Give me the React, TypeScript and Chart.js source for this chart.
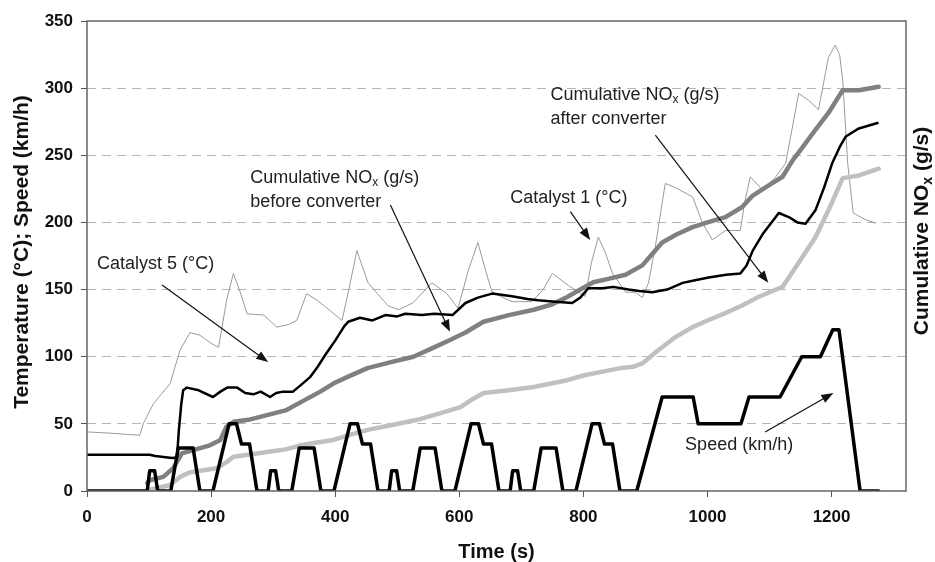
import React, { useEffect, useRef } from "react";
import { Chart, registerables } from "chart.js";

Chart.register(...registerables);

// ---- Data ----
const speedTime = [0, 86, 97, 101, 109, 114, 135, 147, 171, 182, 203, 229, 241, 249, 262, 274,
  292, 296, 304, 309, 330, 342, 366, 377, 398, 424, 436, 444, 457, 469,
  487, 491, 499, 504, 525, 537, 561, 572, 593, 619, 631, 639, 652, 664,
  682, 686, 694, 699, 720, 732, 756, 767, 788, 814, 826, 834, 847, 859,
  886, 927, 977, 985, 1054, 1067, 1117, 1152, 1182, 1202, 1212, 1246, 1276];
const speedKmh = [0, 0, 0, 15, 15, 0, 0, 32, 32, 0, 0, 50, 50, 35, 35, 0,
  0, 15, 15, 0, 0, 32, 32, 0, 0, 50, 50, 35, 35, 0,
  0, 15, 15, 0, 0, 32, 32, 0, 0, 50, 50, 35, 35, 0,
  0, 15, 15, 0, 0, 32, 32, 0, 0, 50, 50, 35, 35, 0,
  0, 70, 70, 50, 50, 70, 70, 100, 100, 120, 120, 0, 0];

const cat5Time = [0, 60, 101, 110, 137, 145, 148, 152, 155, 161, 180, 203, 215, 226, 242, 255, 268, 280, 295, 305, 316, 332, 345, 360, 371, 385, 400, 415, 421, 440, 460, 481, 500, 513, 540, 560, 589, 610, 630, 653, 685, 710, 727, 755, 782, 795, 808, 830, 848, 873, 890, 911, 935, 960, 980, 1002, 1030, 1053, 1063, 1073, 1090, 1115, 1131, 1145, 1158, 1174, 1188, 1201, 1213, 1223, 1244, 1274];
const cat5Temp = [27, 27, 27, 26, 24.5, 25, 45, 65, 75, 77, 75, 70, 74, 77, 77, 73, 72, 74, 70, 73, 74, 74, 79, 85, 92, 102, 112, 123, 126, 129, 127, 131, 130, 132, 131, 132, 131, 140, 144, 147, 145, 143, 142, 141, 140, 144, 151, 151, 152, 150, 149, 148, 150, 155, 157, 159, 161, 162, 168, 179, 192, 207, 204, 200, 199, 209, 226, 244, 256, 264, 270, 274];

const cat1Time = [0, 40, 85, 91, 107, 134, 150, 166, 182, 200, 212, 225, 236, 247, 258, 285, 306, 325, 338, 354, 371, 390, 411, 422, 435, 453, 485, 502, 525, 556, 580, 598, 615, 630, 645, 653, 685, 717, 735, 750, 776, 803, 813, 824, 835, 847, 868, 884, 895, 905, 916, 932, 948, 976, 992, 1008, 1029, 1053, 1060, 1069, 1089, 1110, 1126, 1147, 1163, 1179, 1195, 1206, 1213, 1218, 1226, 1235, 1255, 1271];
const cat1Temp = [44, 43, 41.5, 50.5, 65, 80, 105, 118, 116, 110, 107, 142, 162, 148, 132, 131, 122, 124, 127, 147, 142, 135, 127, 150, 179, 155, 138, 135, 140, 155, 147, 136, 165, 185, 160, 148, 141, 141, 150, 162, 153, 145, 170, 189, 178, 162, 148, 148, 144, 155, 182, 229, 226, 219, 199.5, 187, 194, 194, 215, 234, 224, 234, 244, 296, 291, 284, 323, 332, 325, 306, 244, 207, 202, 199.5];

const noxBeforeTime = [97, 101, 123, 139, 153, 171, 198, 215, 225, 236, 260, 290, 320, 344, 376, 397, 420, 452, 490, 526, 555, 585, 610, 639, 680, 720, 750, 774, 795, 816, 840, 868, 895, 910, 927, 950, 976, 1000, 1029, 1056, 1073, 1100, 1121, 1137, 1155, 1174, 1195, 1218, 1244, 1276];
const noxBefore = [6, 8, 10.5, 17, 28, 30.5, 34, 38, 48, 51.5, 53, 56.5, 60, 66, 74, 80, 85, 91.5, 96, 100, 106, 112.5, 118, 126, 131, 135, 139, 144.5, 150, 155.5, 158, 161, 168, 176, 185, 191, 196.5, 200, 204, 211.5, 220, 228, 234, 246, 257, 269, 281.5, 298.5, 298.5, 301];

const noxAfterTime = [101, 107, 134, 150, 166, 209, 225, 236, 260, 290, 320, 344, 376, 397, 425, 452, 490, 532, 570, 602, 620, 639, 680, 720, 774, 800, 827, 860, 880, 895, 921, 948, 976, 1000, 1029, 1055, 1082, 1100, 1121, 1147, 1174, 1195, 1218, 1244, 1276];
const noxAfter = [1, 1.5, 4.5, 10.5, 14, 17, 21.5, 25.5, 27, 29, 31, 34, 36.5, 38, 42, 45.5, 49, 53, 58, 62.5, 68, 73, 75, 77.5, 82.5, 86, 88.5, 91.5, 92.5, 95, 105, 114.5, 122, 127, 132.5, 138, 144.5, 148, 152, 170, 189, 209, 233, 235, 240];

const xTickValues = [0, 200, 400, 600, 800, 1000, 1200];
const yTickValues = [0, 50, 100, 150, 200, 250, 300, 350];

const FONT = "'Liberation Sans', Arial, sans-serif";

type Part = string | { sub: string };
interface Note {
  lines: Part[][];
  t: number; // left edge of text (time units)
  v: number[]; // centre line value per line
  arrow: [number, number, number, number];
}

const NOTES: Note[] = [
  { lines: [["Catalyst 5 (°C)"]], t: 16, v: [169], arrow: [121, 153.4, 292, 96] },
  {
    lines: [["Cumulative NO", { sub: "x" }, " (g/s)"], ["before converter"]],
    t: 263, v: [233, 215], arrow: [489, 213, 585, 118.5],
  },
  { lines: [["Catalyst 1 (°C)"]], t: 682, v: [218], arrow: [779, 208, 811, 187] },
  {
    lines: [["Cumulative NO", { sub: "x" }, " (g/s)"], ["after converter"]],
    t: 747, v: [295, 277], arrow: [916, 265, 1098, 155],
  },
  { lines: [["Speed (km/h)"]], t: 964, v: [34], arrow: [1093, 44, 1203, 73] },
];

function pts(xs: number[], ys: number[]) {
  return xs.map((x, i) => ({ x, y: ys[i] }));
}

function richWidth(ctx: CanvasRenderingContext2D, parts: Part[], size: number, bold: boolean) {
  const b = bold ? "bold " : "";
  let w = 0;
  for (const p of parts) {
    if (typeof p === "string") {
      ctx.font = `${b}${size}px ${FONT}`;
      w += ctx.measureText(p).width;
    } else {
      ctx.font = `${b}${Math.round(size * 0.65)}px ${FONT}`;
      w += ctx.measureText(p.sub).width;
    }
  }
  return w;
}

function drawRich(ctx: CanvasRenderingContext2D, parts: Part[], x: number, y: number, size: number, bold: boolean) {
  const b = bold ? "bold " : "";
  ctx.textAlign = "left";
  ctx.textBaseline = "middle";
  let cx = x;
  for (const p of parts) {
    if (typeof p === "string") {
      ctx.font = `${b}${size}px ${FONT}`;
      ctx.fillText(p, cx, y);
      cx += ctx.measureText(p).width;
    } else {
      ctx.font = `${b}${Math.round(size * 0.65)}px ${FONT}`;
      ctx.fillText(p.sub, cx, y + size * 0.28);
      cx += ctx.measureText(p.sub).width;
    }
  }
}

function drawArrow(ctx: CanvasRenderingContext2D, x1: number, y1: number, x2: number, y2: number) {
  const ang = Math.atan2(y2 - y1, x2 - x1);
  const hl = 12, hw = 4.5;
  ctx.strokeStyle = "#111";
  ctx.fillStyle = "#111";
  ctx.lineWidth = 1.2;
  ctx.beginPath();
  ctx.moveTo(x1, y1);
  ctx.lineTo(x2 - Math.cos(ang) * hl * 0.8, y2 - Math.sin(ang) * hl * 0.8);
  ctx.stroke();
  ctx.beginPath();
  ctx.moveTo(x2, y2);
  ctx.lineTo(x2 - Math.cos(ang) * hl + Math.sin(ang) * hw, y2 - Math.sin(ang) * hl - Math.cos(ang) * hw);
  ctx.lineTo(x2 - Math.cos(ang) * hl - Math.sin(ang) * hw, y2 - Math.sin(ang) * hl + Math.cos(ang) * hw);
  ctx.closePath();
  ctx.fill();
}

const decorPlugin = {
  id: "decor",
  afterDraw(chart: any) {
    const { ctx, chartArea, scales } = chart;
    const xs = scales.x, ys = scales.y;
    ctx.save();
    // frame
    ctx.strokeStyle = "#666";
    ctx.lineWidth = 1.5;
    ctx.strokeRect(chartArea.left, chartArea.top, chartArea.right - chartArea.left, chartArea.bottom - chartArea.top);

    // axis titles
    ctx.fillStyle = "#111";
    ctx.font = `bold 20px ${FONT}`;
    ctx.textAlign = "center";
    ctx.textBaseline = "middle";
    ctx.fillText("Time (s)", (chartArea.left + chartArea.right) / 2, 552);

    ctx.save();
    ctx.translate(22, 252);
    ctx.rotate(-Math.PI / 2);
    ctx.font = `bold 21px ${FONT}`;
    ctx.fillText("Temperature (°C); Speed (km/h)", 0, 0);
    ctx.restore();

    ctx.save();
    ctx.translate(922, 231);
    ctx.rotate(-Math.PI / 2);
    const rt: Part[] = ["Cumulative NO", { sub: "x" }, " (g/s)"];
    const w = richWidth(ctx, rt, 21, true);
    drawRich(ctx, rt, -w / 2, 0, 21, true);
    ctx.restore();

    // annotations
    for (const n of NOTES) {
      ctx.fillStyle = "#222";
      n.lines.forEach((ln, i) => {
        drawRich(ctx, ln, xs.getPixelForValue(n.t), ys.getPixelForValue(n.v[i]), 18, false);
      });
      const [a, b, c, d] = n.arrow;
      drawArrow(ctx, xs.getPixelForValue(a), ys.getPixelForValue(b), xs.getPixelForValue(c), ys.getPixelForValue(d));
    }
    ctx.restore();
  },
};

export default function App() {
  const ref = useRef<HTMLCanvasElement>(null);
  useEffect(() => {
    if (!ref.current) return;
    const chart = new Chart(ref.current, {
      type: "line",
      data: {
        datasets: [
          { label: "Speed (km/h)", data: pts(speedTime, speedKmh), borderColor: "#000", borderWidth: 3.5, order: 1, yAxisID: "y" },
          { label: "Catalyst 5 (°C)", data: pts(cat5Time, cat5Temp), borderColor: "#000", borderWidth: 2.5, order: 2, yAxisID: "y" },
          { label: "Cumulative NOx before converter", data: pts(noxBeforeTime, noxBefore), borderColor: "#808080", borderWidth: 4.5, order: 3, yAxisID: "y1" },
          { label: "Cumulative NOx after converter", data: pts(noxAfterTime, noxAfter), borderColor: "#c0c0c0", borderWidth: 4.5, order: 4, yAxisID: "y1" },
          { label: "Catalyst 1 (°C)", data: pts(cat1Time, cat1Temp), borderColor: "#9a9a9a", borderWidth: 1, order: 5, yAxisID: "y" },
        ] as any,
      },
      options: {
        animation: false,
        responsive: false,
        parsing: false as any,
        layout: { padding: { top: 21, left: 0, right: 0, bottom: 0 } },
        elements: { point: { radius: 0 }, line: { tension: 0, borderJoinStyle: "round", borderCapStyle: "round" } },
        plugins: { legend: { display: false }, tooltip: { enabled: false } },
        scales: {
          x: {
            type: "linear",
            min: 0,
            max: 1320,
            afterBuildTicks: (s: any) => { s.ticks = xTickValues.map((v) => ({ value: v })); },
            afterFit: (s: any) => { s.height = 71; },
            grid: { drawOnChartArea: false, drawTicks: true, tickLength: 6, tickColor: "#555", tickWidth: 1 },
            border: { display: false },
            ticks: {
              color: "#111",
              font: { family: FONT, size: 17, weight: "bold" },
              padding: 10,
              maxRotation: 0,
              callback: (v: any) => String(v),
            },
          },
          y: {
            type: "linear",
            position: "left",
            min: 0,
            max: 350,
            afterBuildTicks: (s: any) => { s.ticks = yTickValues.map((v) => ({ value: v })); },
            afterFit: (s: any) => { s.width = 87; },
            grid: {
              color: (c: any) => (c.tick && (c.tick.value === 0 || c.tick.value === 350) ? "rgba(0,0,0,0)" : "#b5b5b5"),
              lineWidth: 1,
              drawTicks: true,
              tickLength: 6,
              tickColor: "#555",
              tickWidth: 1,
              tickBorderDash: [],
            },
            border: { display: false, dash: [9, 6] },
            ticks: {
              color: "#111",
              font: { family: FONT, size: 17, weight: "bold" },
              padding: 8,
              callback: (v: any) => String(v),
            },
          },
          y1: {
            type: "linear",
            position: "right",
            min: 0,
            max: 350,
            afterFit: (s: any) => { s.width = 29; },
            grid: { display: false },
            border: { display: false },
            ticks: { display: false },
          },
        },
      } as any,
      plugins: [decorPlugin],
    });
    return () => chart.destroy();
  }, []);
  return (
    <div style={{ position: "absolute", left: 0, top: 0, width: 935, height: 562, background: "#fff" }}>
      <canvas ref={ref} width={935} height={562} style={{ display: "block" }} />
    </div>
  );
}
